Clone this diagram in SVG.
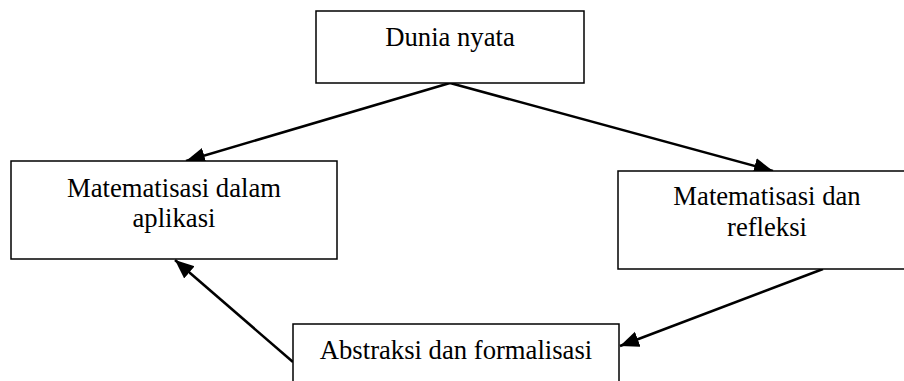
<svg xmlns="http://www.w3.org/2000/svg" width="904" height="381" viewBox="0 0 904 381">
<style>
.box{fill:#fff;stroke:#000;stroke-width:1.5}
.t{font-family:"Liberation Serif","Times New Roman",serif;font-size:26.67px;fill:#000;text-anchor:middle}
.c{stroke:#000;stroke-width:2.5;fill:none}
</style>
<defs>
<marker id="ah" markerUnits="userSpaceOnUse" markerWidth="22" markerHeight="18" refX="19" refY="8" orient="auto">
<path d="M0,0 L19,8 L0,16 Z" fill="#000"/>
</marker>
</defs>
<rect width="904" height="381" fill="#fff"/>
<g id="connectors">
<line class="c" x1="450" y1="83" x2="186" y2="161" marker-end="url(#ah)"/>
<line class="c" x1="450" y1="83" x2="773" y2="171" marker-end="url(#ah)"/>
<line class="c" x1="823" y1="269" x2="620" y2="346" marker-end="url(#ah)"/>
<line class="c" x1="293" y1="362" x2="175" y2="260" marker-end="url(#ah)"/>
</g>
<g id="dunia-nyata">
<rect class="box" x="316" y="11" width="268" height="72"/>
<text class="t" x="450" y="46">Dunia nyata</text>
</g>
<g id="matematisasi-aplikasi">
<rect class="box" x="11" y="161" width="326" height="98"/>
<text class="t" x="174" y="197">Matematisasi dalam</text>
<text class="t" x="174" y="227">aplikasi</text>
</g>
<g id="matematisasi-refleksi">
<rect class="box" x="618" y="171" width="300" height="98"/>
<text class="t" x="767" y="205">Matematisasi dan</text>
<text class="t" x="767" y="236">refleksi</text>
</g>
<g id="abstraksi">
<rect class="box" x="293" y="324" width="326" height="80"/>
<text class="t" x="456" y="359">Abstraksi dan formalisasi</text>
</g>
</svg>
